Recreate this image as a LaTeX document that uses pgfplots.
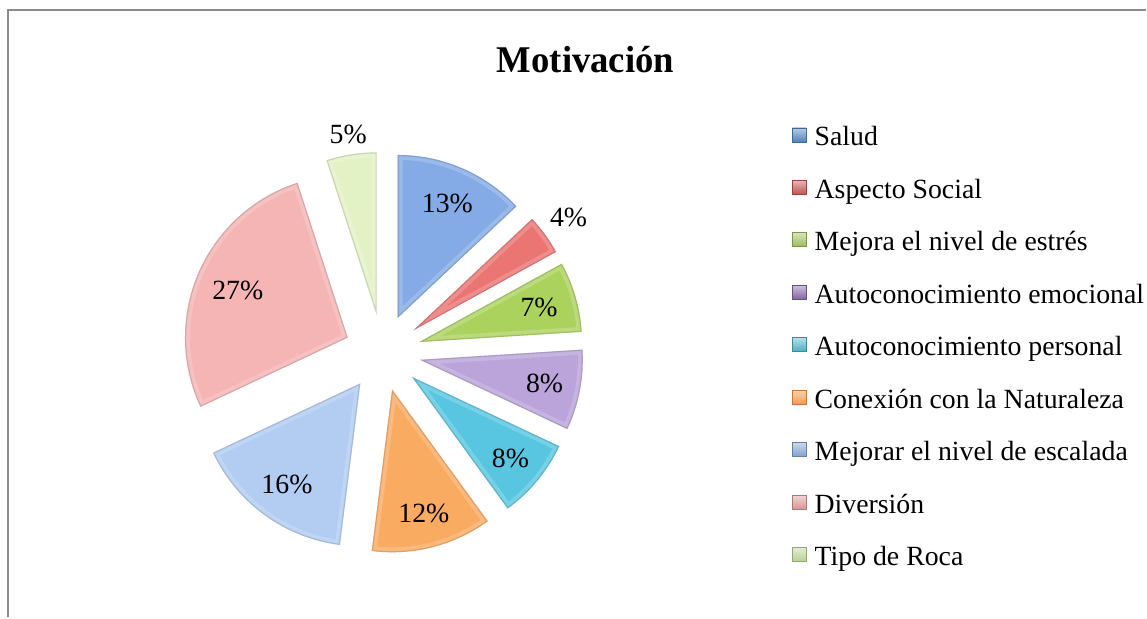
\documentclass[border=0pt]{standalone}
\usepackage{pgfplots}
\pgfplotsset{compat=1.18}
\usepackage{fontspec}
\setmainfont{Liberation Serif}
\definecolor{cSalud}{HTML}{84ABE6}
\definecolor{cAspecto}{HTML}{EA7573}
\definecolor{cMejora}{HTML}{ACD25E}
\definecolor{cEmoc}{HTML}{BAA4DA}
\definecolor{cPers}{HTML}{59C6E1}
\definecolor{cConex}{HTML}{FAAB62}
\definecolor{cEscal}{HTML}{B2CCF2}
\definecolor{cDiver}{HTML}{F5B5B4}
\definecolor{cRoca}{HTML}{E3F2C5}
\definecolor{lSalud}{HTML}{4F81BD}
\definecolor{lAspecto}{HTML}{C0504D}
\definecolor{lMejora}{HTML}{9BBB59}
\definecolor{lEmoc}{HTML}{8064A2}
\definecolor{lPers}{HTML}{4BACC6}
\definecolor{lConex}{HTML}{F79646}
\definecolor{lEscal}{HTML}{7F9FCF}
\definecolor{lDiver}{HTML}{D99694}
\definecolor{lRoca}{HTML}{B9CF8F}
\newcommand\lbl{\fontsize{13.9}{16}\selectfont}
\newcommand\ttl{\fontsize{18.9}{22}\selectfont\bfseries}
\gdef\cum{0}
% #1 value (percent), #2 colour, #3 label distance from tip (px)
\newcommand\slice[3]{%
  \pgfmathsetmacro\sa{90-3.6*\cum}%
  \pgfmathsetmacro\sb{90-3.6*(\cum+#1)}%
  \pgfmathsetmacro\sm{(\sa+\sb)/2}%
  \pgfmathsetmacro\tx{383+38*cos(\sm)}%
  \pgfmathsetmacro\ty{265+38*sin(\sm)}%
  \pgfmathsetmacro\lx{\tx+#3*cos(\sm)}%
  \pgfmathsetmacro\ly{\ty+#3*sin(\sm)}%
  \edef\temp{%
    \noexpand\fill[#2] (axis cs:\tx,\ty) -- ++(\sa:81.5pt) arc[start angle=\sa, end angle=\sb, radius=81.5pt] -- cycle;
    \noexpand\begin{scope}
    \noexpand\clip (axis cs:\tx,\ty) -- ++(\sa:81.5pt) arc[start angle=\sa, end angle=\sb, radius=81.5pt] -- cycle;
    \noexpand\draw[white, opacity=0.18, line width=5pt, line join=round] (axis cs:\tx,\ty) -- ++(\sa:81.5pt) arc[start angle=\sa, end angle=\sb, radius=81.5pt] -- cycle;
    \noexpand\draw[#2!65!black, opacity=0.35, line width=1.2pt, line join=round] (axis cs:\tx,\ty) -- ++(\sa:81.5pt) arc[start angle=\sa, end angle=\sb, radius=81.5pt] -- cycle;
    \noexpand\end{scope}
    \noexpand\node[font=\noexpand\lbl, inner sep=0pt] at (axis cs:\lx,\ly) {#1\noexpand\%};
  }%
  \temp
  \pgfmathsetmacro\newcum{\cum+#1}%
  \xdef\cum{\newcum}%
}
% #1 index, #2 colour, #3 text
\newcommand\legitem[3]{%
  \pgfmathsetmacro\by{618-(146+52.5*#1)}%
  \pgfmathsetmacro\bya{\by+4}%
  \pgfmathsetmacro\byb{\by+18}%
  \edef\temp{%
    \noexpand\fill[top color=#2!40!white, bottom color=#2, draw=#2!80!black, line width=0.3pt]
      (axis cs:793,\bya) rectangle (axis cs:807,\byb);
    \noexpand\node[font=\noexpand\lbl, inner sep=0pt, anchor=base west] at (axis cs:815,\by) {\unexpanded{#3}};
  }%
  \temp
}
\begin{document}
\begin{tikzpicture}
\begin{axis}[x=0.5pt, y=0.5pt, xmin=0, xmax=1147, ymin=0, ymax=618,
  hide axis, clip=false]
\path (axis cs:0,0) rectangle (axis cs:1147,618);
\draw[color=black!45, line width=1pt] (axis cs:8,0) -- (axis cs:8,608) -- (axis cs:1147,608);
\node[font=\ttl, inner sep=0pt, anchor=base] at (axis cs:586,545) {\scalebox{0.97}[1]{Motivación}};
\slice{13}{cSalud}{125}
\slice{4}{cAspecto}{192}
\slice{7}{cMejora}{125}
\slice{8}{cEmoc}{127}
\slice{8}{cPers}{128}
\slice{12}{cConex}{128}
\slice{16}{cEscal}{125}
\slice{27}{cDiver}{120}
\slice{5}{cRoca}{183}
\legitem{0}{lSalud}{Salud}
\legitem{1}{lAspecto}{Aspecto Social}
\legitem{2}{lMejora}{Mejora el nivel de estrés}
\legitem{3}{lEmoc}{Autoconocimiento emocional}
\legitem{4}{lPers}{Autoconocimiento personal}
\legitem{5}{lConex}{Conexión con la Naturaleza}
\legitem{6}{lEscal}{Mejorar el nivel de escalada}
\legitem{7}{lDiver}{Diversión}
\legitem{8}{lRoca}{Tipo de Roca}
\end{axis}
\end{tikzpicture}
\end{document}
